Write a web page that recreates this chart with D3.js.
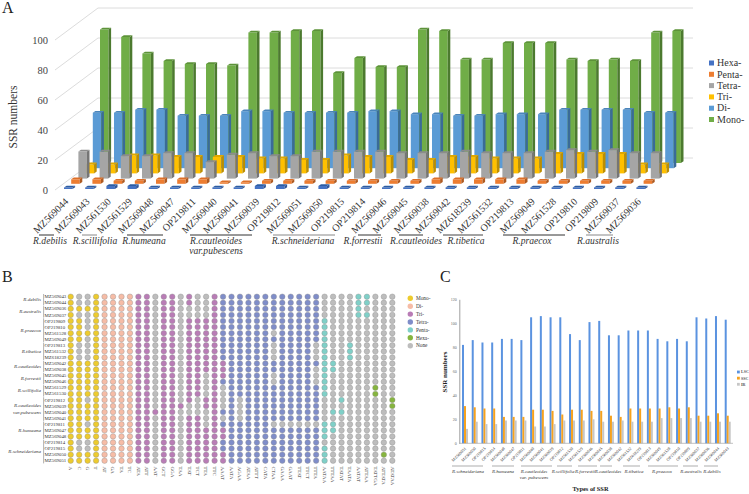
<!DOCTYPE html>
<html><head><meta charset="utf-8">
<style>html,body{margin:0;padding:0;background:#fff}svg{display:block}text{font-family:"Liberation Serif",serif}</style>
<script src="https://cdnjs.cloudflare.com/ajax/libs/d3/7.8.5/d3.min.js"></script>
</head><body><div id="c"></div>
<script>
// ---------- Panel A data ----------
const accessionsA = ["MZ569044","MZ569043","MZ561530","MZ561529","MZ569048","MZ569047","OP219811","MZ569040","MZ569041","MZ569039","OP219812","MZ569051","MZ569050","OP219815","OP219814","MZ569046","MZ569045","MZ569038","MZ569042","MZ618239","MZ561532","OP219813","MZ569049","MZ561528","OP219810","OP219809","MZ569037","MZ569036"];
const seriesNames = ["Hexa-","Penta-","Tetra-","Tri-","Di-","Mono-"];
const hexaA = [1,1,2,2,1,1,1,1,1,2,2,1,2,1,1,1,1,1,1,1,1,1,1,1,1,1,1,1];
const pentaA = [3,3,2,2,3,3,3,1,1,2,2,2,2,2,2,2,2,3,3,3,3,3,2,2,2,2,2,2];
const tetraA = [18,18,15,15,17,17,11,16,17,15,15,18,18,18,18,17,17,17,18,17,17,17,18,19,18,19,17,17];
const triA = [6,6,12,12,11,11,11,11,10,10,9,9,12,11,11,9,9,11,11,10,10,10,13,13,13,13,6,6];
const diA = [37,37,39,39,35,35,35,38,38,37,37,37,37,38,38,36,36,35,35,36,36,36,39,39,39,39,37,37];
const monoA = [89,84,73,68,66,66,65,87,87,88,88,60,70,64,64,89,88,69,69,80,80,80,69,68,69,68,87,88];
const valuesA = [hexaA,pentaA,tetraA,triA,diA,monoA];
const groupNamesA = [["R.debilis"],["R.scillifolia"],["R.humeana"],["R.cautleoides","var.pubescens"],["R.schneideriana"],["R.forrestii"],["R.cautleoides"],["R.tibetica"],["R.praecox"],["R.australis"]];
const groupFirstA = [0,2,4,7,11,15,17,19,22,26];
const groupLastA = [1,3,6,10,14,16,18,21,25,27];

// ---------- Panel B data ----------
const accessionsB = ["MZ569043","MZ569044","MZ569036","MZ569037","OP219809","OP219810","MZ561528","MZ569049","OP219813","MZ561532","MZ618239","MZ569042","MZ569038","MZ569045","MZ569046","MZ561529","MZ561530","OP219812","MZ569039","MZ569040","MZ569041","OP219811","MZ569047","MZ569048","OP219814","OP219815","MZ569050","MZ569051"];
const speciesB = [["R.debilis"],["R.australis"],["R.praecox"],["R.tibetica"],["R.cautleoides"],["R.forrestii"],["R.scillifolia"],["R.cautleoides","var.pubescens"],["R.humeana"],["R.schneideriana"]];
const speciesRowsB = [[0,1],[2,3],[4,7],[8,10],[11,12],[13,14],[15,16],[17,20],[21,23],[24,27]];
const commonMotifs = ["A","C","G","T","AT","GA","TA","TC","ATA","ATT","AAT","GCT","GGA","TAA","TAT","TCT","TTA","TTC","AAAT","AATA","AGAA","ATAA","ATTT","CATA","CTAA","GAAA","GAAT","TTAT","TTCT","TTTA"];
const commonAbsentRows = [[],[0,1,3,8,9,10,24,25],[0,1,3,4,5,7,8,9,10,17,21,24,25],[],[],[],[],[],[],[],
 [0,1,2,3,4,5,6,7,8,9,10,11,12,13,14,15,16,17,18,20,21,22,23,24,25,26,27],[],[],
 [0,1,2,3,4,5,6,7,8,9,10,11,12,13,14,15,16,17,19,20,21,22,23,24,25,26,27],
 [2,3,18,19],[0,1,2,3,17,18,19],[0,1,2,3,13,14,15,16,19,20,21],[],
 [15,16,17,18,20],[],[17,18,19,20],[],[],[],[6,8,9,10,13,14,21],[21],[21],[21],[21],[8,9,10,12,13,14,21]];
const triColouredRows = [11,12,13,22,23,26,27];
const rareMotifs = ["AATAA","TTTAA","TATAT","TAATA","AATAT","ATTAA","TATTGA","ATTATA","ATATAA"];
const rarePresentRows = [[4,5,6,7,8,9,10,11,12,13,14,15,16,21,22,23,25,26,27],[11,12,19,21,22],[17,19],[8,9,10],[0,1,2,3],[0,1,3],[15,16],[26],[17,18]];
const legendB = ["Mono-","Di-","Tri-","Tetra-","Penta-","Hexa-","None"];

// ---------- Panel C data ----------
const accessionsC = ["MZ569051","MZ569050","OP219815","OP219814","MZ569048","MZ569047","OP219811","MZ569040","MZ569041","MZ569039","OP219812","MZ561530","MZ561529","MZ569046","MZ569045","MZ569038","MZ569042","MZ561532","MZ618239","OP219813","MZ569049","MZ561528","OP219810","OP219809","MZ569037","MZ569036","MZ569044","MZ569043"];
const lscC = [82,86,84,84,87,87,86,105,106,105,105,91,86,101,102,90,90,94,94,94,87,85,87,85,105,104,106,103];
const sscC = [31,30,29,29,22,22,22,28,28,27,24,28,28,27,27,23,22,29,29,29,29,30,29,30,23,23,25,23];
const irC = [12,18,16,16,19,19,19,14,14,16,19,19,19,20,18,18,19,18,18,18,21,21,21,21,18,18,18,18];
const legendC = ["LSC","SSC","IR"];
const groupNamesC = [["R.schneideriana"],["R.humeana"],["R.cautleoides","var. pubescens"],["R.scillifolia"],["R.forrestii"],["R.cautleoides"],["R.tibetica"],["R.praecox"],["R.australis"],["R.debilis"]];
const groupFirstC = [0,4,7,11,13,15,17,20,24,26];
const groupLastC = [3,6,10,12,14,16,19,23,25,27];

const svg = d3.select("#c").append("svg").attr("width",749).attr("height",494);
const txt = "#333";

// panel letters
[["A",2,12.5],["B",2,282],["C",440,282]].forEach(([t,x,y])=>svg.append("text").attr("x",x).attr("y",y).attr("font-size",16).attr("fill","#222").text(t));

// ---------- Panel A ----------
(function(){
  const g = svg.append("g");
  const grid = "#dcdcdc";
  const yFront = d3.scaleLinear().domain([0,100]).range([190,40]);
  const depthX = 43, depthY = 32;
  const ticks = [0,20,40,60,80,100];
  ticks.forEach(t=>{
    g.append("line").attr("x1",55).attr("y1",yFront(t)).attr("x2",55+depthX).attr("y2",yFront(t)-depthY).attr("stroke",grid);
    g.append("line").attr("x1",55+depthX).attr("y1",yFront(t)-depthY).attr("x2",693).attr("y2",yFront(t)-depthY).attr("stroke",grid);
  });
  const ax = g.append("g").attr("transform","translate(48,0)").call(d3.axisLeft(yFront).tickValues(ticks).tickSize(0).tickPadding(0));
  ax.select(".domain").remove();
  ax.selectAll("text").attr("font-family","Liberation Serif").attr("font-size",10.5).attr("fill","#444");
  g.append("text").attr("transform","translate(17,117) rotate(-90)").attr("text-anchor","middle").attr("font-size",11.5).attr("fill",txt).text("SSR numbers");

  const x = d3.scalePoint().domain(accessionsA).range([64,64+21.2*27]);
  const row = d3.scaleLinear().domain([0,5]).range([0,1]);
  const h = v=>yFront(0)-yFront(v);
  const faces = [
    ["#4472C4","#2f5597","#2d5da3"],
    ["#ED7D31","#ae5a21","#dd6f28"],
    ["#A5A5A5","#757575","#8c8c8c"],
    ["#FFC000","#bc8e00","#e0a800"],
    ["#5B9BD5","#3a6b98","#4a85bb"],
    ["#70AD47","#4c7a2f","#5d9339"]
  ];
  const bw = 8.5, sx = 2.6, sy = 1.8;
  for(let s=5;s>=0;s--){
    const bg = g.append("g").attr("class","series");
    accessionsA.forEach((name,i)=>{
      const x0 = x(name)+row(s)*36, y0 = 189-row(s)*26, hh = h(valuesA[s][i]), yt = y0-hh;
      const c = faces[s];
      bg.append("rect").attr("x",x0).attr("y",yt).attr("width",bw).attr("height",hh).attr("fill",c[0]);
      bg.append("polygon").attr("points",[[x0+bw,yt],[x0+bw+sx,yt-sy],[x0+bw+sx,y0-sy],[x0+bw,y0]].join(" ")).attr("fill",c[1]);
      bg.append("polygon").attr("points",[[x0,yt],[x0+sx,yt-sy],[x0+bw+sx,yt-sy],[x0+bw,yt]].join(" ")).attr("fill",c[2]);
    });
  }
  const lab = i=>67+21.2*i;
  accessionsA.forEach((n,i)=>g.append("text").attr("transform",`translate(${lab(i)},200) rotate(-45)`).attr("text-anchor","end").attr("font-size",10).attr("fill",txt).attr("dy","0.3em").text(n));
  const lineColours = ["#333","#888","#333","#333","#888","#333","#333","#444","#333","#888"];
  const lx1=[39,82,127,190,273,358,399,443,503,586], lx2=[54,97,163,252,335,381,423,483,565,613], cx=[50,95,144,216,303,363,416,466,532,598];
  groupNamesA.forEach((lines,k)=>{
    g.append("line").attr("x1",lx1[k]).attr("x2",lx2[k]).attr("y1",235).attr("y2",235).attr("stroke",lineColours[k]);
    lines.forEach((t,j)=>g.append("text").attr("x",cx[k]).attr("y",243.5+j*10.5).attr("text-anchor","middle").attr("font-size",9.6).attr("font-style","italic").attr("fill",txt).text(t));
  });
  const lg = g.append("g");
  const legendOrder = seriesNames;
  const ly = d3.scalePoint().domain(legendOrder).range([63,119.5]);
  legendOrder.forEach((t,k)=>{
    lg.append("rect").attr("x",709).attr("y",ly(t)-2.5).attr("width",5).attr("height",5).attr("fill",faces[k][0]);
    lg.append("text").attr("x",717).attr("y",ly(t)+3.2).attr("font-size",10).attr("fill",txt).text(t);
  });
})();

// ---------- Panel B ----------
(function(){
  const g = svg.append("g");
  const motifs = commonMotifs.concat(rareMotifs);
  const x = d3.scalePoint().domain(motifs).range([70.7,392.3]);
  const y = d3.scalePoint().domain(accessionsB).range([296.7,460.7]);
  const colours = {1:"#EDCB2E",2:"#F6BCA6",3:"#B97CB6",4:"#7F8DC9",5:"#7FD0C8",6:"#86B53E",0:"#BDBDBD"};
  const strokeC = "#8f8f8f";
  const r = 2.75;
  motifs.forEach((m,ci)=>{
    accessionsB.forEach((acc,ri)=>{
      let t;
      if(ci<commonMotifs.length){
        t = commonAbsentRows[ci].includes(ri)?0:m.length;
        if(m==="AAAT"&&triColouredRows.includes(ri)) t=3;
      } else {
        t = rarePresentRows[ci-commonMotifs.length].includes(ri)?m.length:0;
      }
      g.append("circle").attr("cx",x(m)).attr("cy",y(acc)).attr("r",r).attr("fill",colours[t]).attr("stroke",strokeC).attr("stroke-width",0.4);
    });
    g.append("text").attr("transform",`translate(${x(m)},466.5) rotate(90)`).attr("font-size",5).attr("dy","0.33em").attr("fill",txt).text(m);
  });
  accessionsB.forEach(a=>g.append("text").attr("x",44.6).attr("y",y(a)).attr("dy","0.33em").attr("font-size",4.8).attr("fill",txt).text(a));
  speciesB.forEach((lines,k)=>{
    const [a,b] = speciesRowsB[k];
    const y1 = y(accessionsB[a])-2.7, y2 = y(accessionsB[b])+2.7, ym=(y1+y2)/2;
    g.append("line").attr("x1",43.6).attr("x2",43.6).attr("y1",y1).attr("y2",y2).attr("stroke","#666").attr("stroke-width",0.5);
    lines.forEach((t,j)=>g.append("text").attr("x",41).attr("y",ym+1.5+(j-(lines.length-1)/2)*6.2).attr("text-anchor","end").attr("font-size",5).attr("font-style","italic").attr("fill",txt).text(t));
  });
  const ly = d3.scalePoint().domain(legendB).range([298.3,345.7]);
  const keys=[1,2,3,4,5,6,0];
  legendB.forEach((t,k)=>{
    g.append("circle").attr("cx",410.3).attr("cy",ly(t)).attr("r",2.7).attr("fill",colours[keys[k]]);
    g.append("text").attr("x",416).attr("y",ly(t)+1.7).attr("font-size",5.3).attr("fill",txt).text(t);
  });
})();

// ---------- Panel C ----------
(function(){
  const g = svg.append("g");
  const y = d3.scaleLinear().domain([0,120]).range([443.3,299.3]);
  const x = d3.scaleBand().domain(accessionsC).range([458.5,458.5+9.73*28]).padding(0);
  const inner = d3.scaleBand().domain([0,1,2]).range([3.5,9.5]);
  const cols = ["#5B93E0","#F6A21E","#C6C6C6"];
  [lscC,sscC,irC].forEach((vals,s)=>{
    g.append("g").selectAll("rect").data(vals).join("rect")
      .attr("x",(d,i)=>x(accessionsC[i])+inner(s)).attr("y",d=>y(d))
      .attr("width",inner.bandwidth()).attr("height",d=>y(0)-y(d)).attr("fill",cols[s]);
  });
  const ax = g.append("g").attr("transform","translate(459.3,0)").call(d3.axisLeft(y).tickValues([0,20,40,60,80,100,120]).tickSize(0).tickPadding(2.5));
  ax.select(".domain").attr("stroke","#888").attr("stroke-width",0.8);
  ax.selectAll("text").attr("font-family","Liberation Serif").attr("font-size",4).attr("fill","#666");
  g.append("line").attr("x1",459.3).attr("x2",733).attr("y1",y(0)).attr("y2",y(0)).attr("stroke","#999").attr("stroke-width",0.6);
  accessionsC.forEach(a=>g.append("text").attr("transform",`translate(${x(a)+7},448) rotate(-45)`).attr("text-anchor","end").attr("dy","0.3em").attr("font-size",4.1).attr("fill",txt).text(a));
  const lx1=[452,492,521,557,578,600,623,648,683,704], lx2=[483,514,552,572,597,612,640,678,698,718], cx=[468,503,534,563,585,608,634,662,691,712];
  groupNamesC.forEach((lines,k)=>{
    g.append("line").attr("x1",lx1[k]).attr("x2",lx2[k]).attr("y1",466).attr("y2",466).attr("stroke","#777").attr("stroke-width",0.6);
    lines.forEach((t,j)=>g.append("text").attr("x",cx[k]).attr("y",472.5+j*6.8).attr("text-anchor","middle").attr("font-size",4.9).attr("font-style","italic").attr("fill",txt).text(t));
  });
  g.append("text").attr("x",590.5).attr("y",491).attr("text-anchor","middle").attr("font-size",6.4).attr("font-weight","bold").attr("fill","#222").text("Types of SSR");
  g.append("text").attr("transform","translate(447,372) rotate(-90)").attr("text-anchor","middle").attr("font-size",7).attr("font-weight","bold").attr("fill","#222").text("SSR numbers");
  const ly = d3.scalePoint().domain(legendC).range([372,384.3]);
  legendC.forEach((t,k)=>{
    g.append("rect").attr("x",737).attr("y",ly(t)-1.4).attr("width",2.8).attr("height",2.8).attr("fill",cols[k]);
    g.append("text").attr("x",741).attr("y",ly(t)+1.4).attr("font-size",4).attr("font-weight","bold").attr("fill","#555").text(t);
  });
})();
</script></body></html>
